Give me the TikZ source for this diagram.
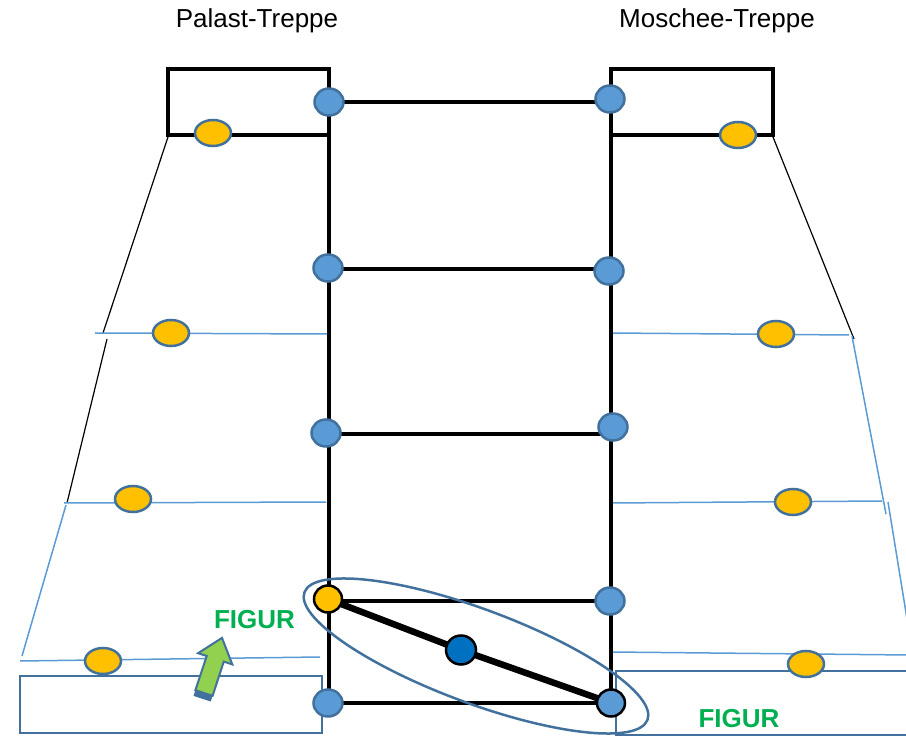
\documentclass[tikz,border=0pt]{standalone}
\usepackage{fontspec}
\setmainfont{Liberation Sans}
\usetikzlibrary{shapes.geometric}
\definecolor{nodeblue}{HTML}{5B9BD5}
\definecolor{edgeblue}{HTML}{41719C}
\definecolor{gold}{HTML}{FFC000}
\definecolor{deepblue}{HTML}{0070C0}
\definecolor{figgreen}{HTML}{00B050}
\definecolor{arrowgreen}{HTML}{92D050}
\begin{document}
\begin{tikzpicture}[x=1pt,y=-1pt,
  bnode/.style={ellipse,draw=edgeblue,line width=2.5pt,fill=nodeblue,minimum width=29pt,minimum height=27pt,inner sep=0pt},
  bknode/.style={ellipse,draw=black,line width=2.5pt,minimum width=28pt,minimum height=27pt,inner sep=0pt},
  ynode/.style={ellipse,draw=edgeblue,line width=2.5pt,fill=gold,minimum width=36pt,minimum height=26pt,inner sep=0pt},
  thinblue/.style={draw=nodeblue,line width=1.5pt},
  thinblack/.style={draw=black,line width=1.2pt},
  frame/.style={draw=black,line width=3.5pt},
  rung/.style={draw=black,line width=3.2pt},
  basebox/.style={draw=edgeblue,line width=2.5pt},
  title/.style={font=\fontsize{26}{30}\selectfont,anchor=base},
  figlabel/.style={font=\bfseries\fontsize{26}{30}\selectfont,text=figgreen,anchor=base}]
\useasboundingbox (0,0) rectangle (906,738);
\clip (0,0) rectangle (906,738);

% box corners
\coordinate (TLa) at (168,69);
\coordinate (TLb) at (329,69);
\coordinate (TLc) at (329,135);
\coordinate (TLd) at (168,135);
\coordinate (TRa) at (611,69);
\coordinate (TRb) at (773,69);
\coordinate (TRc) at (773,135);
\coordinate (TRd) at (611,135);

% thin side lines (left)
\draw[thinblack] (168,137) -- (103,333);
\draw[thinblack] (107,339) -- (67,503);
\draw[thinblue] (66,505) -- (22,656);
\draw[thinblue] (95,333) -- (329,334);
\draw[thinblue] (64,503) -- (326,502);
\draw[thinblue] (20,661) -- (320,657);
% thin side lines (right)
\draw[thinblack] (773,137) -- (854,339);
\draw[thinblue] (852,336) -- (886,514);
\draw[thinblue] (888,502) -- (908,625);
\draw[thinblue] (611,333) -- (849,335);
\draw[thinblue] (611,503) -- (882,501);
\draw[thinblue] (611,652) -- (910,655);

% base boxes
\draw[basebox] (20,676) rectangle (322,733);
\draw[basebox] (616,671) rectangle (915,735);

% top boxes
\draw[frame] (TLd) -- (TLa) -- (TLb) -- (TLc) -- cycle;
\draw[frame] (TRd) -- (TRa) -- (TRb) -- (TRc) -- cycle;

% node positions
\coordinate (L1) at (329,102);
\coordinate (L2) at (328,268);
\coordinate (L3) at (326,433);
\coordinate (L4) at (328,599);
\coordinate (L5) at (328,703);
\coordinate (R1) at (610,99);
\coordinate (R2) at (609,271);
\coordinate (R3) at (613,427);
\coordinate (R4) at (610,601);
\coordinate (R5) at (611,703);
\coordinate (M) at (461,650);

% verticals and rungs
\draw[rung] (TLb) -- (329,703);
\draw[rung] (TRa) -- (611,703);
\draw[rung] (329,102) -- (611,102);
\draw[rung] (329,269) -- (611,269);
\draw[rung] (329,434) -- (611,434);
\draw[rung] (329,601) -- (611,601);
\draw[rung] (329,703) -- (611,703);
\draw[black,line width=6.5pt] (L4) -- (M) -- (R5);

% group ellipse
\node[ellipse,draw=edgeblue,line width=2.5pt,minimum width=366pt,minimum height=94pt,inner sep=0pt,rotate=-20.4] (grp) at (476,656) {};

% nodes
\node[bnode] (nL1) at (L1) {};
\node[bnode] (nL2) at (L2) {};
\node[bnode] (nL3) at (L3) {};
\node[bknode,fill=gold] (nL4) at (L4) {};
\node[bnode] (nL5) at (L5) {};
\node[bnode] (nR1) at (R1) {};
\node[bnode] (nR2) at (R2) {};
\node[bnode] (nR3) at (R3) {};
\node[bnode] (nR4) at (R4) {};
\node[bknode,fill=nodeblue] (nR5) at (R5) {};
\node[bknode,fill=deepblue,minimum width=30pt,minimum height=29pt] (nM) at (M) {};

% yellow side markers
\node[ynode] (y1) at (213,133) {};
\node[ynode] (y2) at (738,135) {};
\node[ynode] (y3) at (171,333) {};
\node[ynode] (y4) at (133,499) {};
\node[ynode] (y5) at (103,661) {};
\node[ynode] (y6) at (776,334) {};
\node[ynode] (y7) at (793,502) {};
\node[ynode] (y8) at (806,664) {};

% green arrow
\fill[edgeblue] (195.4,690.2) -- (212.6,695.8) -- (210.7,701.5) -- (193.5,695.9) -- cycle;
\draw[fill=arrowgreen,draw=edgeblue,line width=2pt,line join=miter]
  (195.4,690.2) -- (206.7,656.0) -- (198.1,653.2) -- (222.0,637.9) -- (232.3,664.4) -- (223.8,661.6) -- (212.6,695.8) -- cycle;

% texts
\node[title] (t1) at (257,28) {Palast-Treppe};
\node[title] (t2) at (717,28) {Moschee-Treppe};
\node[figlabel] (f1) at (254.5,628) {FIGUR};
\node[figlabel] (f2) at (739,727) {FIGUR};
\end{tikzpicture}
\end{document}
